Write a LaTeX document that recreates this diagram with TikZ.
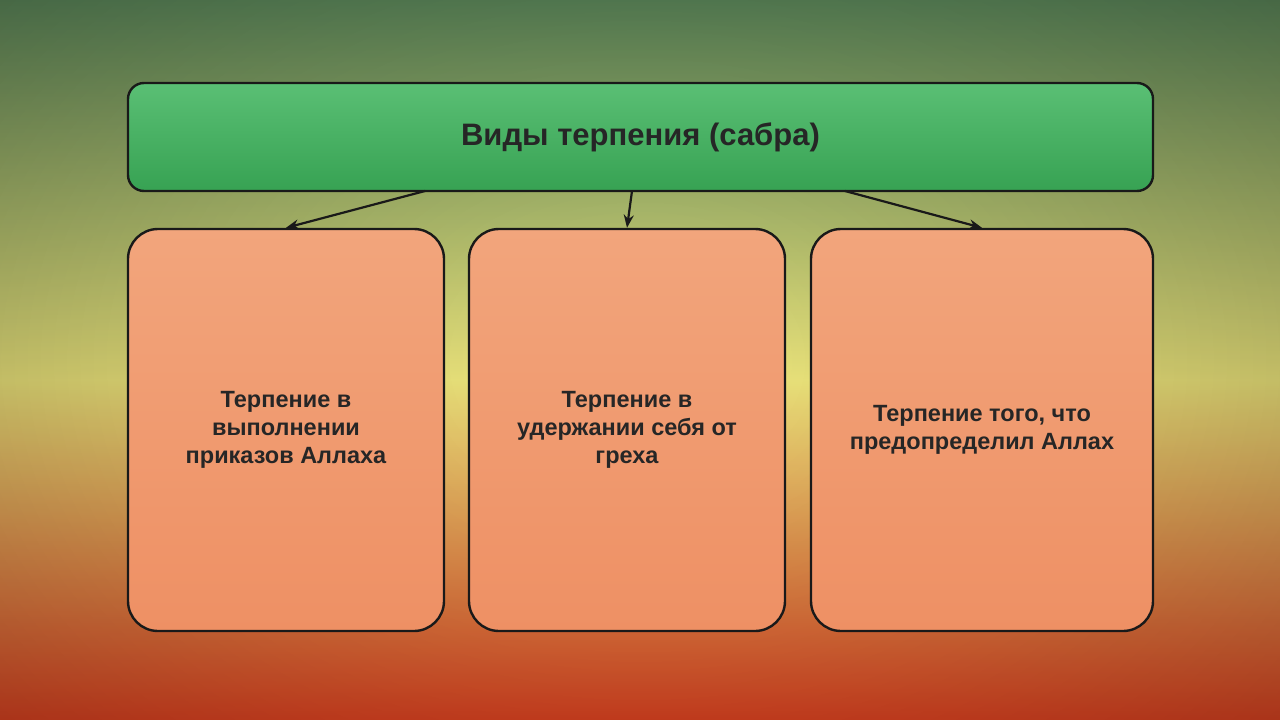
\documentclass[tikz,border=0pt]{standalone}
\usepackage{fontspec}
\setmainfont{Liberation Sans}
\usetikzlibrary{arrows.meta}
\definecolor{bgtop}{HTML}{5E8A5C}
\definecolor{bgmid}{HTML}{F2EA7E}
\definecolor{bgbot}{HTML}{E04422}
\definecolor{boxtop}{HTML}{F2A57C}
\definecolor{boxbot}{HTML}{EE9064}
\definecolor{grn}{HTML}{3DB45C}
\tikzset{
  card/.style={draw=black!90, line width=2.4pt, rounded corners=30pt, top color=boxtop, bottom color=boxbot, minimum height=402pt, align=center, font=\bfseries\fontsize{23.5}{28}\selectfont, text=black!85},
  arr/.style={-{Stealth[length=13pt,width=10pt]}, line width=2.2pt, draw=black!90}
}
\begin{document}
\begin{tikzpicture}[x=1pt,y=-1pt]
\useasboundingbox (0,0) rectangle (1280,720);
\shade[top color=bgtop, bottom color=bgmid] (0,0) rectangle (1280,380);
\shade[top color=bgmid, bottom color=bgbot] (0,380) rectangle (1280,720);
\begin{scope}[blend mode=multiply]
\shade[inner color=white, outer color=black!25] (-200,-250) rectangle (1480,970);
\end{scope}
\node[draw=black!90, line width=2.4pt, rounded corners=16pt, top color=grn!85!white, bottom color=grn!90!black, minimum width=1025pt, minimum height=108pt, font=\bfseries\fontsize{31}{36}\selectfont, text=black!85] (top) at (640.5,137) {Виды терпения (сабра)};
\node[card, minimum width=316pt] (a) at (286,430) {Терпение в\\выполнении\\приказов Аллаха};
\node[card, minimum width=316pt] (b) at (627,430) {Терпение в\\удержании себя от\\греха};
\node[card, minimum width=342pt] (c) at (982,430) {Терпение того, что\\предопределил Аллах};
\coordinate (s1) at (425,191);
\coordinate (s2) at (632,191);
\coordinate (s3) at (845,191);
\draw[arr] (s1) -- (a.north);
\draw[arr] (s2) -- (b.north);
\draw[arr] (s3) -- (c.north);
\end{tikzpicture}
\end{document}
